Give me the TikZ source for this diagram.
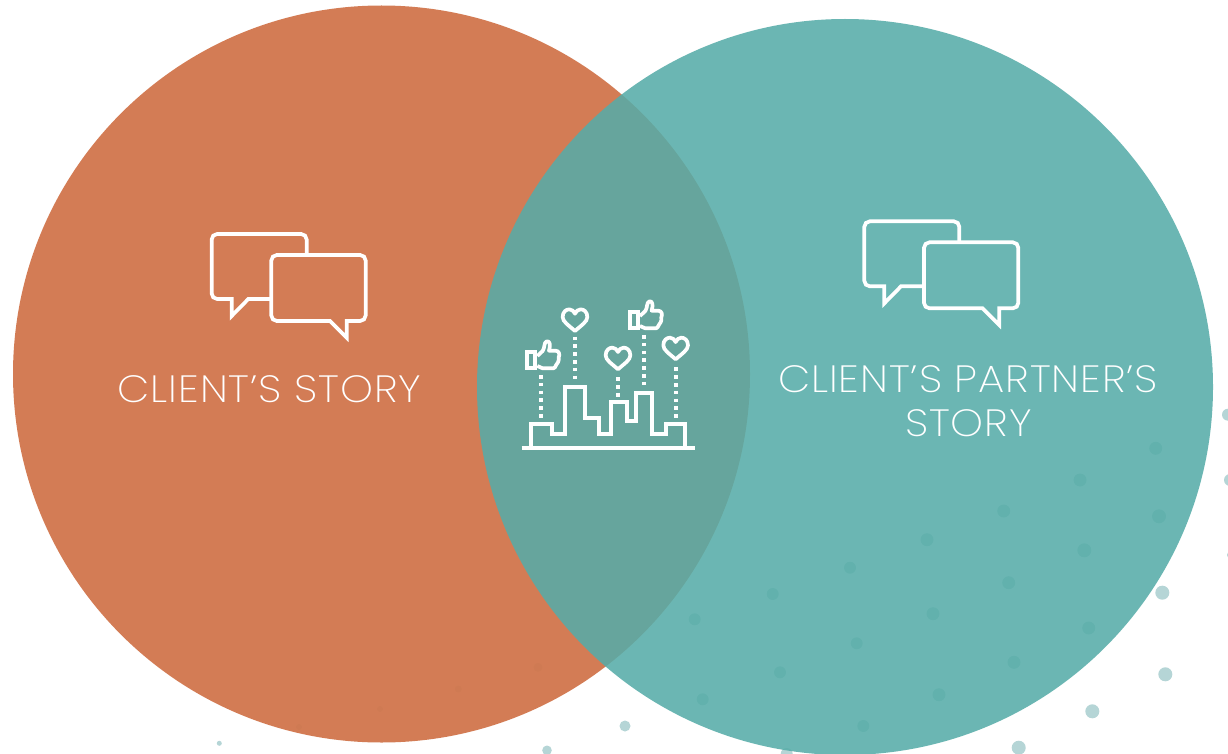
\documentclass[tikz,border=0pt]{standalone}
\usepackage{fontspec}
\setmainfont[LetterSpace=2.5,FakeStretch=1.1]{Poppins ExtraLight}
\definecolor{orangeC}{RGB}{209,118,76}
\definecolor{tealC}{RGB}{86,172,168}
\definecolor{dotC}{RGB}{181,213,214}
\tikzset{
  line/.style={draw=white,line width=3.7pt,fill=none},
  dotted line/.style={draw=white,line width=3.6pt,dash pattern=on 3.6pt off 4.2pt},
  story/.style={text=white,font=\fontsize{38}{38}\selectfont,inner sep=0pt,anchor=base},
  pics/bubbles/.style={code={
    \draw[line,line join=miter,rounded corners=0pt] (240,267) -- (175,267) -- (125,318) -- (125,267)
      [rounded corners=5.5pt] -- (65,267) -- (65,72) -- (350,72) -- (350,135);
    \draw[line,line join=miter,rounded corners=5.5pt] (244,230) -- (244,135) -- (527,135) -- (527,333)
      [rounded corners=0pt] -- (470,333) -- (470,383) -- (420,333)
      [rounded corners=5.5pt] -- (244,333) -- cycle;
  }},
  pics/heart/.style={code={
    \draw[line,line join=round] (0,68)
      .. controls (-20,50) and (-37,40) .. (-37,26)
      .. controls (-37,10) and (-26,3) .. (-17,3)
      .. controls (-9,3) and (-3,9) .. (0,16)
      .. controls (3,9) and (9,3) .. (17,3)
      .. controls (26,3) and (37,10) .. (37,26)
      .. controls (37,40) and (20,50) .. (0,68) -- cycle;
  }},
  pics/thumb/.style={code={
    \draw[line,line join=miter] (81,217) rectangle (106,265);
    \draw[line,line join=round] (112,228) -- (128,213) .. controls (135,203) and (131,188) .. (140,184)
      .. controls (150,182) and (152,195) .. (147,212) -- (166,212)
      .. controls (178,212) and (180,224) .. (176,232) .. controls (178,244) and (172,250) .. (168,256)
      .. controls (165,266) and (158,266) .. (150,265) -- (128,265) -- (112,258);
  }}
}
\begin{document}
\begin{tikzpicture}[x=1pt,y=-1pt]
\useasboundingbox (0,0) rectangle (1228,754);
\fill[white] (0,0) rectangle (1228,754);
% dots
\foreach \px/\py/\r in {1155.7/448.3/6.5,1080/480/6.5,1003.7/511/6.5,927/539.7/6.5,850/567.7/6,772.7/594/6,
 1159/516.3/7,1084.3/550.3/7,1008.7/582.7/6.5,933/613.7/6.5,856.7/643.3/6,780/672.3/6,
 1088.7/628/6.5,1014/662.3/6.5,939/694.7/6.5,863.3/726/6,
 1162.3/592.7/7,1165.3/674.3/7,1092.3/711.3/7,1018.7/747.7/7,786.7/754/6,
 1228/414.7/6,1230/480/6,1232/555/5,
 694.7/619.3/6,702.7/699.3/6,625/726/5.5,547/750.3/4.8,538/667.3/4.5,458.3/689/3.5,380/709/3,299/727/3,219.3/743.3/2.5}
  \fill[dotC] (\px,\py) circle[radius=\r];
% circles
\fill[orangeC,fill opacity=.95] (381.5,374) circle[radius=368.5];
\fill[tealC,fill opacity=.87] (845,387) circle[radius=368];
% bubbles
\begin{scope}[shift={(190,210)},x=.3333pt,y=-.3333pt]
  \pic {bubbles};
\end{scope}
\begin{scope}[shift={(842.67,197.33)},x=.3333pt,y=-.3333pt]
  \pic {bubbles};
\end{scope}
% city icon
\begin{scope}[shift={(500,280)},x=.3333pt,y=-.3333pt]
  \draw[line] (65,503) -- (585,503);
  \draw[line,line join=miter] (94,497) -- (94,432) -- (155,432) -- (155,462) -- (195,462) -- (195,320) -- (254,320) -- (254,414) -- (296,414) -- (296,462) -- (332,462) -- (332,367) -- (380,367) -- (380,422) -- (408,422) -- (408,338) -- (456,338) -- (456,462) -- (497,462) -- (497,432) -- (556,432) -- (556,497);
  \draw[dotted line] (123,285) -- (123,414);
  \draw[dotted line] (225,170) -- (225,302);
  \draw[dotted line] (354,292) -- (354,350);
  \draw[dotted line] (432,165) -- (432,320);
  \draw[dotted line] (528,262) -- (528,414);
  \pic at (225,85) {heart};
  \pic at (354,200) {heart};
  \pic at (527,170) {heart};
  \pic at (0,0) {thumb};
  \pic at (308,-120) {thumb};
\end{scope}
% labels
\node[story] (clientstory) at (269.5,402) {CLIENT'S STORY};
\node[story] (partnerline) at (968,392.7) {CLIENT'S PARTNER'S};
\node[story] (partnerstory) at (968.5,436.7) {STORY};
\end{tikzpicture}
\end{document}
